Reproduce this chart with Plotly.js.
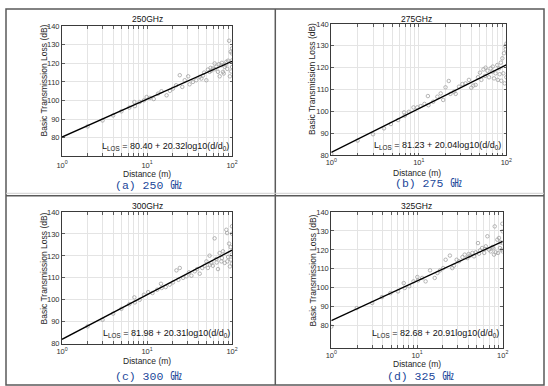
<!DOCTYPE html>
<html>
<head>
<meta charset="utf-8">
<script src="https://cdn.plot.ly/plotly-3.0.1.min.js"></script>
<style>html,body{margin:0;padding:0;background:#fff;}#chart{width:548px;height:386px;}</style>
</head>
<body>
<div id="chart"></div>
<script>
// ---------- data ----------
const panelTitles = ["250GHz", "275GHz", "300GHz", "325GHz"];
const captions = ["(a) 250 ㎓", "(b) 275 ㎓", "(c) 300 ㎓", "(d) 325 ㎓"];
const fitIntercept = [80.40, 81.23, 81.98, 82.68];
const fitSlope = [20.32, 20.04, 20.31, 20.91];
const fitDist = [1, 100];

const distA = [2, 3, 4, 5, 6.2, 7.1, 7.2, 8.2, 9.2, 9.9, 10.8, 12, 13.5, 14.8, 17, 18.6, 20.2, 22, 24.3, 26,
  27.8, 30.5, 31.7, 34.7, 38, 41.7, 43.6, 45.6, 47, 49.9, 52, 54.5, 56, 57, 59.6, 62.5, 63, 65.3, 68.4, 70,
  71.6, 74.9, 76, 78.3, 80, 82, 84, 85.8, 88, 90, 92.4, 94.4, 96.5, 98, 99.6, 100, 100, 100];
const lossA = [86.1, 89.3, 92.0, 94.2, 96.2, 99.2, 97.0, 99.2, 100.1, 101.9, 101.4, 100.8, 103.7, 105.0, 102.8, 105.2, 106.4, 108.2, 113.6, 107.3,
  110.9, 113.0, 108.7, 110.0, 110.9, 112.7, 111.8, 113.4, 115.0, 110.9, 116.6, 115.4, 117.5, 116.0, 117.2, 119.9, 116.8, 118.1, 115.4, 119.5,
  113.0, 119.0, 120.2, 115.4, 114.5, 118.1, 119.2, 120.8, 117.0, 121.4, 132.1, 113.0, 126.2, 115.6, 125.3, 128.0, 118.0, 121.5];

const distB = [1, 2, 3, 4, 4.8, 5.8, 6.8, 6.9, 7.7, 8.7, 9.6, 10.5, 11.6, 12.7, 12.9, 14.6, 16.3, 17.8, 19, 20.2,
  22, 23, 25.3, 26.4, 28.8, 31.5, 34.2, 37.4, 39.8, 42, 44.6, 47.5, 50, 51.9, 54.8, 57, 60.8, 63.5, 66.3, 69.2,
  72.4, 75.4, 78.8, 80, 82.8, 86.6, 87.7, 90.2, 92.4, 94, 95.8, 97.5, 98.4, 100, 100, 58, 70, 84];
const lossB = [80.5, 86.6, 89.5, 92.2, 94.2, 96.0, 99.5, 98.0, 99.8, 101.8, 101.8, 102.4, 103.4, 107.0, 102.8, 104.4, 106.7, 108.2, 105.2, 111.0,
  113.9, 108.0, 109.0, 108.0, 111.3, 112.5, 112.8, 114.4, 110.8, 111.8, 112.1, 115.6, 117.7, 114.4, 119.2, 116.2, 118.6, 115.6, 119.7, 118.2,
  115.1, 117.4, 121.2, 114.4, 119.7, 122.3, 114.0, 124.3, 117.4, 126.6, 112.8, 129.9, 128.4, 115.6, 131.0, 120.0, 120.5, 117.0];

const distC = [2, 3, 4, 5, 6.2, 7.1, 7.2, 8.2, 9.2, 10.3, 11.6, 13.2, 14.6, 14.9, 16.6, 18.5, 20.2, 22.2, 23.4, 24.3,
  26.6, 29.1, 31.2, 33.3, 36.5, 38.9, 41.7, 44.7, 47.7, 50, 52, 54.5, 57, 59.6, 62.4, 65.3, 68.4, 71.5, 74.9, 78.3,
  82, 85.7, 87.6, 90, 92.4, 94.4, 96.5, 97.4, 99.6, 100, 100, 100, 55, 66, 76, 88];
const lossC = [87.9, 90.9, 93.7, 95.9, 98.0, 101.1, 98.8, 100.0, 102.3, 103.5, 103.1, 104.6, 107.3, 105.4, 105.8, 106.9, 107.9, 113.4, 109.1, 114.5,
  110.0, 110.7, 112.5, 111.0, 113.0, 114.0, 111.9, 114.5, 115.5, 117.5, 114.5, 120.1, 116.8, 115.5, 128.0, 118.6, 114.0, 121.3, 117.5, 122.1,
  116.8, 131.9, 130.4, 119.5, 125.6, 115.2, 124.0, 118.3, 120.6, 133.5, 130.1, 116.5, 116.0, 117.0, 119.0, 117.5];

const distD = [1, 1.98, 3, 3.9, 4.9, 6, 7, 7.2, 8.1, 9.1, 10.1, 10.3, 11.5, 12.6, 14.2, 16.1, 17.3, 18.6, 20.2, 21.6,
  24.2, 25.8, 27, 29, 30.9, 33.9, 36, 38.7, 41.5, 44.3, 46.3, 48.4, 51.5, 54.5, 57.5, 60.8, 63.5, 66.3, 69.3, 72.4,
  75.8, 79.2, 80.7, 82.8, 86.6, 88.3, 90.6, 92.8, 94.5, 97.2, 99.1, 100, 100, 100, 40, 53, 62, 78];
const lossD = [79.5, 89.3, 92.0, 95.1, 97.2, 98.1, 102.5, 99.9, 100.8, 103.4, 105.7, 103.9, 105.2, 103.4, 109.2, 105.2, 107.8, 109.2, 110.4, 114.8,
  117.0, 110.4, 111.7, 114.8, 114.0, 116.2, 117.5, 115.7, 116.9, 118.4, 116.6, 118.7, 123.6, 119.8, 121.0, 118.4, 121.9, 127.2, 120.1, 119.2,
  121.5, 117.5, 132.4, 118.7, 125.4, 118.4, 126.3, 121.0, 124.0, 120.1, 133.8, 129.8, 123.6, 119.2, 117.8, 118.0, 120.5, 120.8];

const xTickVals = [1,2,3,4,5,6,7,8,9,10,20,30,40,50,60,70,80,90,100];
const xTickText = ["10<sup>0</sup>","","","","","","","","","10<sup>1</sup>","","","","","","","","","10<sup>2</sup>"];
const yTickVals = [80, 90, 100, 110, 120, 130, 140];

// ---------- layout geometry (pixels) ----------
const W = 548, H = 386;
const px = v => v / W;
const py = v => 1 - v / H;
const boxes = [
  {l: 62, r: 232, t: 26, b: 155.5, ymin: 70.5, xstand: 2},
  {l: 331.3, r: 506.3, t: 24, b: 155, ymin: 80, xstand: 0},
  {l: 62, r: 232, t: 212, b: 343.7, ymin: 80, xstand: 0},
  {l: 331.3, r: 502.7, t: 212, b: 347.5, ymin: 68.5, xstand: 0}
];
const textPos = [
  {title: [147, 19], ylab: [43.5, 81], xlab: [147, 174], eq: [231, 146.5], cap: [149, 185.5]},
  {title: [416, 19], ylab: [312, 79], xlab: [417, 172.5], eq: [503, 145.5], cap: [428, 184]},
  {title: [147, 205.7], ylab: [43.5, 269], xlab: [147, 361], eq: [232, 333], cap: [149, 376.5]},
  {title: [416, 205.7], ylab: [312, 270.5], xlab: [417, 363.5], eq: [501, 333], cap: [420, 376.5]}
];

const dists = [distA, distB, distC, distD];
const losses = [lossA, lossB, lossC, lossD];

const font = "Liberation Sans, Arial, sans-serif";
const traces = [];
const layout = {
  width: W, height: H,
  margin: {l: 0, r: 0, t: 0, b: 0},
  paper_bgcolor: "#fff", plot_bgcolor: "#fff",
  showlegend: false,
  font: {family: font, size: 8, color: "#262626"},
  annotations: [],
  shapes: []
};

for (let i = 0; i < 4; i++) {
  const s = i === 0 ? "" : String(i + 1);
  const xa = "x" + s, ya = "y" + s;
  const bx = boxes[i];
  traces.push({
    x: dists[i], y: losses[i], xaxis: xa, yaxis: ya,
    type: "scatter", mode: "markers",
    marker: {symbol: "circle-open", size: 3.5, color: "#a3a3a3", line: {width: 0.8, color: "#a3a3a3"}},
    hoverinfo: "skip"
  });
  traces.push({
    x: fitDist,
    y: fitDist.map(d => fitIntercept[i] + fitSlope[i] * Math.log10(d)),
    xaxis: xa, yaxis: ya, type: "scatter", mode: "lines",
    line: {color: "#000", width: 1.3}, hoverinfo: "skip"
  });
  const axCommon = {
    showline: true, linecolor: "#3a3a3a", linewidth: 1, mirror: "ticks",
    ticks: "inside", ticklen: 2.5, tickwidth: 0.8, tickcolor: "#3a3a3a",
    showgrid: true, gridcolor: "#e4e4e4", gridwidth: 1, zeroline: false,
    tickfont: {family: font, size: 7.5, color: "#303030"}, fixedrange: true
  };
  layout["xaxis" + s] = Object.assign({}, axCommon, {
    type: "log", range: [0, 2], domain: [px(bx.l), px(bx.r)], anchor: ya,
    tickmode: "array", tickvals: xTickVals, ticktext: xTickText,
    ticklabelstandoff: bx.xstand
  });
  layout["yaxis" + s] = Object.assign({}, axCommon, {
    range: [bx.ymin, 140], domain: [py(bx.b), py(bx.t)], anchor: xa,
    tickmode: "array", tickvals: yTickVals
  });
  const tp = textPos[i];
  layout.annotations.push(
    {text: panelTitles[i], x: px(tp.title[0]), y: py(tp.title[1]), xref: "paper", yref: "paper",
     showarrow: false, xanchor: "center", yanchor: "middle", font: {family: font, size: 8.5, color: "#111"}},
    {text: "Basic Transmission Loss (dB)", x: px(tp.ylab[0]), y: py(tp.ylab[1]), xref: "paper", yref: "paper",
     showarrow: false, textangle: -90, xanchor: "center", yanchor: "middle", font: {family: font, size: 8.5, color: "#262626"}},
    {text: "Distance (m)", x: px(tp.xlab[0]), y: py(tp.xlab[1]), xref: "paper", yref: "paper",
     showarrow: false, xanchor: "center", yanchor: "middle", font: {family: font, size: 8.5, color: "#262626"}},
    {text: "L<sub>LOS</sub> = " + fitIntercept[i].toFixed(2) + " + " + fitSlope[i].toFixed(2) + "log10(d/d<sub>0</sub>)",
     x: px(tp.eq[0]), y: py(tp.eq[1]), xref: "paper", yref: "paper",
     showarrow: false, xanchor: "right", yanchor: "middle", font: {family: font, size: 9, color: "#111"}},
    {text: captions[i], x: px(tp.cap[0]), y: py(tp.cap[1]), xref: "paper", yref: "paper",
     showarrow: false, xanchor: "center", yanchor: "middle",
     font: {family: "Liberation Mono, Noto Sans CJK KR, monospace", size: 11.5, color: "#22479a"}}
  );
}

// table frame around the four figures
const frameLine = {color: "#5a5a5a", width: 1.5};
layout.shapes.push(
  {type: "rect", xref: "paper", yref: "paper", x0: px(6), x1: px(544), y0: py(385), y1: py(9), line: frameLine},
  {type: "line", xref: "paper", yref: "paper", x0: px(275.3), x1: px(275.3), y0: py(385), y1: py(9), line: frameLine},
  {type: "line", xref: "paper", yref: "paper", x0: px(6), x1: px(544), y0: py(193.3), y1: py(193.3), line: {color: "#d0d0d0", width: 1}},
  {type: "line", xref: "paper", yref: "paper", x0: px(6), x1: px(544), y0: py(195.7), y1: py(195.7), line: frameLine}
);

Plotly.newPlot("chart", traces, layout, {staticPlot: true, displayModeBar: false});
</script>
</body>
</html>
